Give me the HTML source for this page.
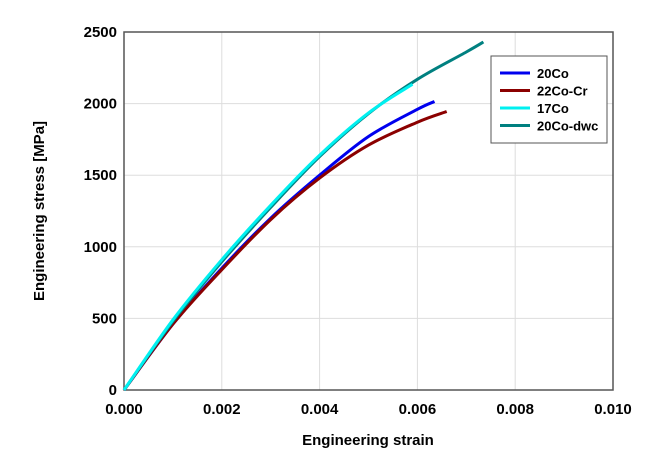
<!DOCTYPE html>
<html><head><meta charset="utf-8"><style>
body{margin:0;background:#fff;width:654px;height:466px;overflow:hidden}
svg text{font-family:"Liberation Sans",Arial,sans-serif;font-weight:bold;fill:#000}
</style></head><body>
<svg id="chart" width="654" height="466" xmlns="http://www.w3.org/2000/svg">
<g id="grid"></g>
<rect x="124" y="32" width="489" height="358" fill="none" stroke="#555" stroke-width="1.5"/>
<g id="ticks"></g>
<g id="series"></g>
<text x="368" y="445" text-anchor="middle" font-size="15">Engineering strain</text>
<text transform="translate(44,211) rotate(-90)" text-anchor="middle" font-size="15">Engineering stress [MPa]</text>
<g>
<rect x="491" y="56" width="116" height="87" fill="#fff" stroke="#555" stroke-width="1"/>
<g id="legend-items"></g>
</g>
</svg>
<script>
const xTicks=[0,0.002,0.004,0.006,0.008,0.010];
const xTickLabels=["0.000","0.002","0.004","0.006","0.008","0.010"];
const yTicks=[0,500,1000,1500,2000,2500];
const yTickLabels=["0","500","1000","1500","2000","2500"];
const seriesNames=["20Co","22Co-Cr","17Co","20Co-dwc"];
const seriesColors=["#0000ee","#8b0000","#00f0f0","#008080"];
const strain20Co=[0,0.001,0.002,0.003,0.004,0.005,0.006,0.00635];
const stress20Co=[0,460,850,1200,1500,1770,1960,2015];
const strain22CoCr=[0,0.001,0.002,0.003,0.004,0.005,0.006,0.0066];
const stress22CoCr=[0,460,840,1190,1480,1710,1870,1945];
const strain17Co=[0,0.001,0.002,0.003,0.004,0.005,0.0059];
const stress17Co=[0,490,910,1290,1640,1935,2135];
const strain20CoDwc=[0,0.001,0.002,0.003,0.004,0.005,0.006,0.007,0.00735];
const stress20CoDwc=[0,480,895,1275,1630,1930,2170,2360,2430];
const X=v=>124+v/0.010*489, Y=v=>390-v/2500*358;
const NS="http://www.w3.org/2000/svg";
function mk(t,a,p){const e=document.createElementNS(NS,t);for(const k in a)e.setAttribute(k,a[k]);p.appendChild(e);return e;}
function smooth(pts){
 let d='M'+pts[0][0].toFixed(1)+','+pts[0][1].toFixed(1);
 for(let i=0;i<pts.length-1;i++){
  const p0=pts[Math.max(i-1,0)],p1=pts[i],p2=pts[i+1],p3=pts[Math.min(i+2,pts.length-1)];
  const c1=[p1[0]+(p2[0]-p0[0])/6,p1[1]+(p2[1]-p0[1])/6];
  const c2=[p2[0]-(p3[0]-p1[0])/6,p2[1]-(p3[1]-p1[1])/6];
  d+=' C'+c1.map(v=>v.toFixed(1)).join(',')+' '+c2.map(v=>v.toFixed(1)).join(',')+' '+p2[0].toFixed(1)+','+p2[1].toFixed(1);
 }
 return d;
}
const grid=document.getElementById('grid'),ticks=document.getElementById('ticks');
xTicks.forEach((v,i)=>{
 const g=mk('line',{x1:X(v),x2:X(v),y1:32,y2:390,stroke:'#ddd','stroke-width':1},grid);
 
 
 const t=mk('text',{x:X(v),y:414,'text-anchor':'middle','font-size':15},ticks);
 t.textContent=xTickLabels[i];
 
 
});
yTicks.forEach((v,i)=>{
 const g=mk('line',{x1:124,x2:613,y1:Y(v),y2:Y(v),stroke:'#ddd','stroke-width':1},grid);
 
 
 const t=mk('text',{x:117,y:Y(v)+5,'text-anchor':'end','font-size':15},ticks);
 t.textContent=yTickLabels[i];
 
 
});
const xs=[strain20Co,strain22CoCr,strain20CoDwc,strain17Co], ys=[stress20Co,stress22CoCr,stress20CoDwc,stress17Co], idx=[0,1,3,2];
const sg=document.getElementById('series');
xs.forEach((arr,j)=>{
 const k=idx[j];
 const pts=arr.map((v,i)=>[X(v),Y(ys[j][i])]);
 const p=mk('path',{d:smooth(pts),fill:'none',stroke:seriesColors[k],'stroke-width':3,'stroke-linejoin':'round'},sg);
 
 
});
const lg=document.getElementById('legend-items');
seriesNames.forEach((n,i)=>{
 const y=73+i*17.5;
 const l=mk('line',{x1:500,x2:530,y1:y,y2:y,stroke:seriesColors[i],'stroke-width':3},lg);
 
 
 const t=mk('text',{x:537,y:y+5,'font-size':13},lg);
 t.textContent=n;
 
 
});
</script>
</body></html>
